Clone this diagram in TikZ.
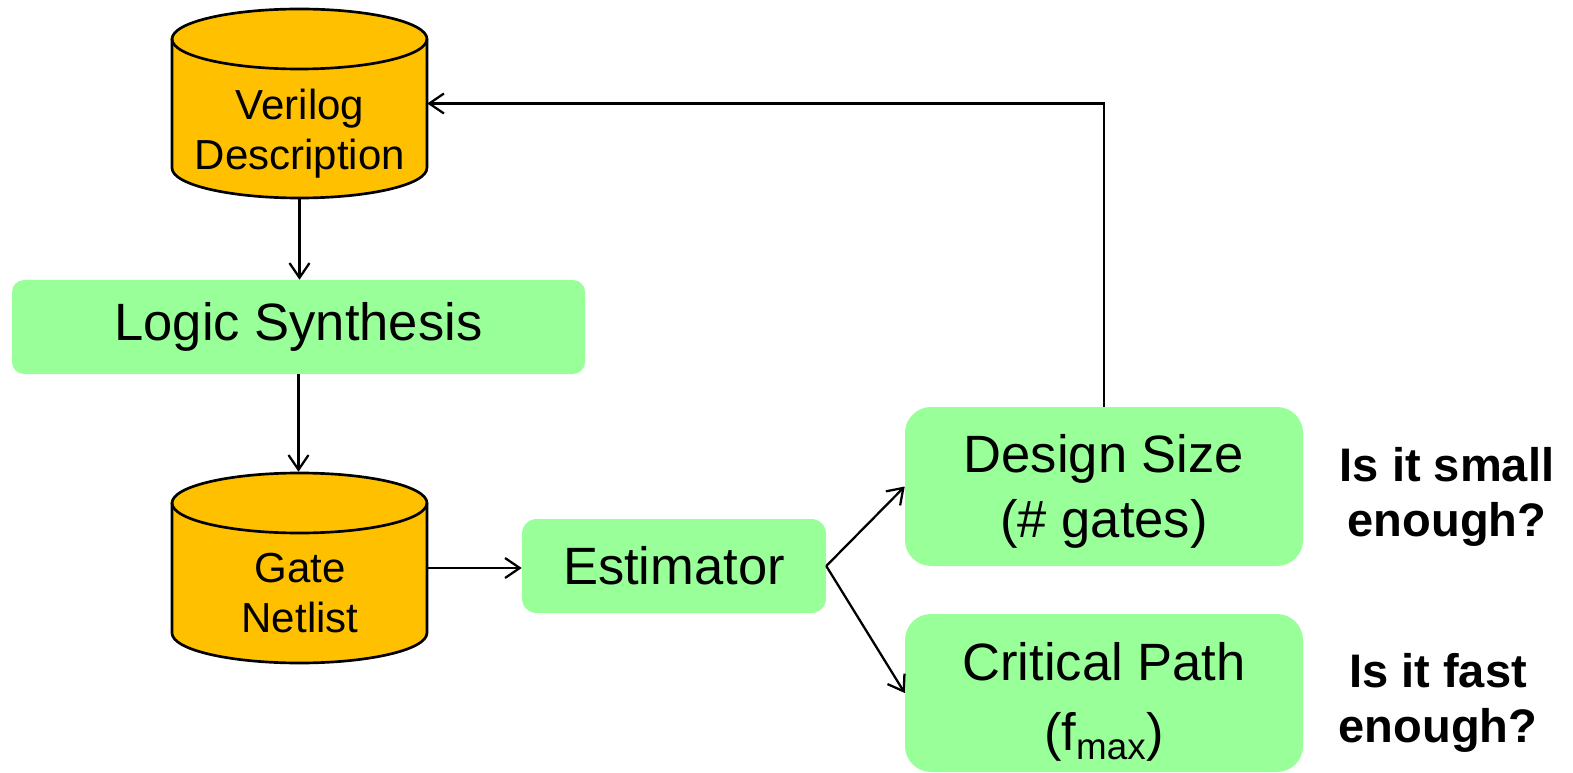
\documentclass[tikz,border=0pt]{standalone}
\usepackage{fontspec}
\setmainfont{Liberation Sans}
\usetikzlibrary{arrows.meta}
\definecolor{dbfill}{HTML}{FFC000}
\definecolor{stepfill}{HTML}{99FF99}
\tikzset{
  stepfont/.style={font=\fontsize{39.4pt}{49pt}\selectfont},
  stepbox/.style={rectangle, fill=stepfill, inner sep=0pt, align=center, stepfont},
  steptext/.style={inner sep=0pt, align=center, stepfont},
  dbshape/.style={fill=dbfill, draw=black, line width=2pt},
  dbtext/.style={align=center, inner sep=0pt,
    font=\fontsize{31.5pt}{37.5pt}\selectfont},
  question/.style={align=center, inner sep=0pt,
    font=\bfseries\fontsize{35.3pt}{41.5pt}\selectfont},
  flow/.style={draw=black, line width=1.7pt,
    -{Straight Barb[length=11pt, width=15pt, line width=1.7pt]}},
}
% draws a database cylinder: centre x, top-ellipse y, bottom-ellipse y (pixels)
\newcommand{\dbcylinder}[3]{%
  \path[dbshape] (#1-127.5,#2) -- (#1-127.5,#3)
    arc[start angle=180, end angle=360, x radius=95.6pt, y radius=22.5pt]
    -- (#1+127.5,#2)
    arc[start angle=0, end angle=180, x radius=95.6pt, y radius=22.5pt] -- cycle;
  \draw[line width=2pt] (#1-127.5,#2)
    arc[start angle=180, end angle=360, x radius=95.6pt, y radius=22.5pt];
}
\begin{document}
\begin{tikzpicture}[x=0.75pt, y=-0.75pt]
\useasboundingbox (0,0) rectangle (1573,773);

% database cylinders
\dbcylinder{299.5}{39}{168}
\dbcylinder{299.5}{503}{633}
\node[inner sep=0pt, minimum width=191.25pt, minimum height=141.75pt] (ver) at (299.5,103.5) {};
\node[dbtext] (vertext) at (300,134) {Verilog\\Description};
\node[inner sep=0pt, minimum width=191.25pt, minimum height=144pt] (gate) at (299.5,568) {};
\node[dbtext] (gatetext) at (300,593) {Gate\\Netlist};

% processing steps
\node[stepbox, rounded corners=9pt, minimum width=429.75pt, minimum height=70.5pt]
  (ls) at (298.5,327) {Logic Synthesis};
\node[stepbox, rounded corners=11pt, minimum width=228pt, minimum height=70.5pt]
  (est) at (674,566) {Estimator};
\node[stepbox, rounded corners=19.5pt, minimum width=298.5pt, minimum height=119.25pt,
  label={[name=dstext, steptext, yshift=-3.5pt]center:Design Size\\(\# gates)}]
  (ds) at (1104,486.5) {};
\node[stepbox, rounded corners=19.5pt, minimum width=298.5pt, minimum height=118.5pt,
  label={[name=cptext, steptext, font=\fontsize{39.4pt}{52.5pt}\selectfont, yshift=-7pt]center:Critical Path\\(f\textsubscript{max})}]
  (cp) at (1104,693) {};

% questions
\node[question] (qsmall) at (1447,497) {Is it small\\enough?};
\node[question] (qfast) at (1438,703) {Is it fast\\enough?};

% connectors
\draw[flow] (ver.south) -- (ver.south |- ls.north);
\draw[flow] (ls.south) -- (ls.south |- gate.north);
\draw[flow] (gate.east) -- (gate.east -| est.west);
\draw[flow] (est.east) -- (ds.west);
\draw[flow] (est.east) -- (cp.west);
\draw[flow] (ds.north) |- (ver.east);
\end{tikzpicture}
\end{document}
